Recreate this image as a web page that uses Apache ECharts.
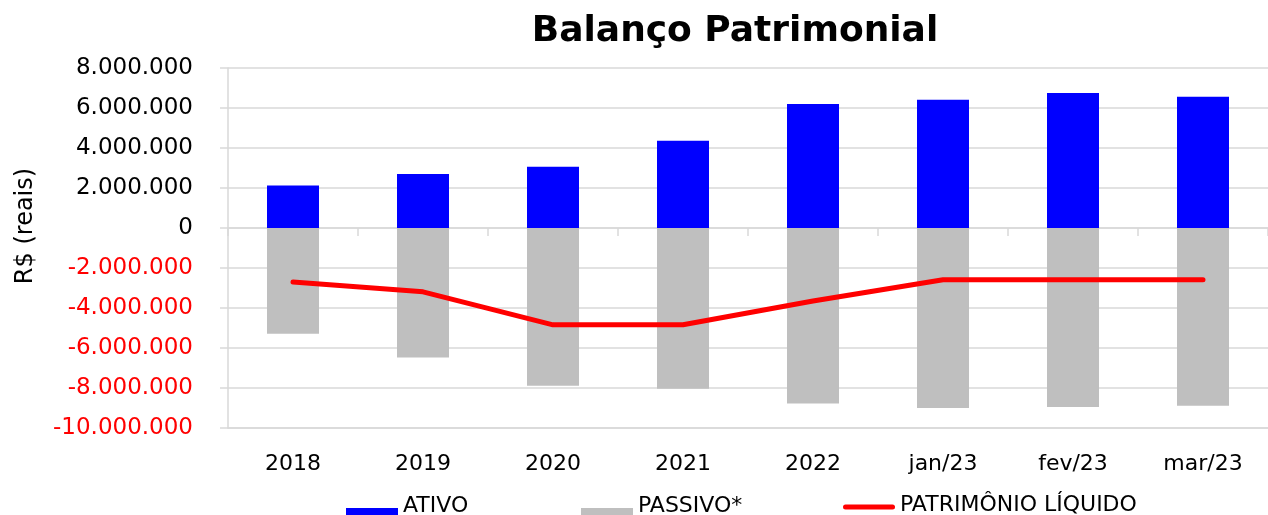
<!DOCTYPE html>
<html>
<head>
<meta charset="utf-8">
<script src="https://cdn.jsdelivr.net/npm/echarts@6/dist/echarts.min.js"></script>
<style>
html,body{margin:0;padding:0;background:#fff;}
#chart{width:1268px;height:515px;}
</style>
</head>
<body>
<div id="chart"></div>
<script>
const categories = ['2018','2019','2020','2021','2022','jan/23','fev/23','mar/23'];
const ativo = [2120000, 2700000, 3060000, 4360000, 6200000, 6410000, 6750000, 6560000];
const passivo = [-5290000, -6470000, -7890000, -8040000, -8770000, -9000000, -8950000, -8890000];
const patrimonio = [-2700000, -3190000, -4840000, -4840000, -3650000, -2590000, -2590000, -2590000];
const yTicks = { min: -10000000, max: 8000000, interval: 2000000 };

const FONT = 'DejaVu Sans';
function fmt(v){
  const s = String(Math.abs(v)).replace(/\B(?=(\d{3})+(?!\d))/g, '.');
  return (v < 0 ? '-' : '') + s;
}
// legend icons: invisible bounds 52x36, text centred at y=18
const RECT_ICON = 'path://M0,0M0,20L52,20L52,34L0,34ZM52,36';
const LINE_ICON = 'path://M0,0M2.5,17.5L49.5,17.5A2.5,2.5 0 0 1 49.5,22.5L2.5,22.5A2.5,2.5 0 0 1 2.5,17.5ZM52,36';

const legendText = { fontFamily: FONT, fontSize: 22, color: '#000' };

const chart = echarts.init(document.getElementById('chart'), null, {renderer:'canvas'});
chart.setOption({
  animation: false,
  backgroundColor: '#ffffff',
  title: {
    text: 'Balanço Patrimonial',
    left: 735, top: 14, textAlign: 'center', padding: 0,
    textStyle: { fontFamily: FONT, fontWeight: 'bold', fontSize: 36, color: '#000' }
  },
  grid: { left: 228, right: 0, top: 68, bottom: 87, containLabel: false },
  legend: [
    { data: [{ name: 'ATIVO', icon: RECT_ICON }], left: 346, top: 488, padding: 0,
      itemWidth: 52, itemHeight: 36, textStyle: legendText },
    { data: [{ name: 'PASSIVO*', icon: RECT_ICON }], left: 581, top: 488, padding: 0,
      itemWidth: 52, itemHeight: 36, textStyle: legendText },
    { data: [{ name: 'PATRIMÔNIO LÍQUIDO', icon: LINE_ICON }], left: 843, top: 487, padding: 0,
      itemWidth: 52, itemHeight: 36, textStyle: legendText }
  ],
  xAxis: [
    { type: 'category', data: categories, position: 'bottom',
      axisLine: { onZero: false, lineStyle: { color: '#d9d9d9', width: 1.5 } },
      axisTick: { show: false },
      axisLabel: { fontFamily: FONT, fontSize: 22, color: '#000', margin: 25 } },
    { type: 'category', data: categories, position: 'top',
      axisLine: { onZero: true, lineStyle: { color: '#d9d9d9', width: 1.5 } },
      axisTick: { show: true, inside: true, length: 8, lineStyle: { color: '#d9d9d9', width: 1.5 } },
      axisLabel: { show: false } }
  ],
  yAxis: {
    type: 'value', min: yTicks.min, max: yTicks.max, interval: yTicks.interval,
    name: 'R$ (reais)', nameLocation: 'middle', nameGap: 190,
    nameTextStyle: { fontFamily: FONT, fontSize: 24, color: '#000', padding: [0,0,0,44] },
    axisLine: { show: true, lineStyle: { color: '#d9d9d9', width: 1.5 } },
    axisTick: { show: true, length: 8, lineStyle: { color: '#d9d9d9', width: 1.5 } },
    splitLine: { show: true, lineStyle: { color: '#d9d9d9', width: 1.5 } },
    axisLabel: {
      fontFamily: FONT, fontSize: 23, margin: 35,
      formatter: fmt,
      color: function (v) { return Number(v) < 0 ? '#FF0000' : '#000000'; }
    }
  },
  series: [
    { name: 'ATIVO', type: 'bar', stack: 'total', data: ativo, barWidth: 52,
      itemStyle: { color: '#0000FF' }, z: 2 },
    { name: 'PASSIVO*', type: 'bar', stack: 'total', data: passivo, barWidth: 52,
      itemStyle: { color: '#BFBFBF' }, z: 2 },
    { name: 'PATRIMÔNIO LÍQUIDO', type: 'line', data: patrimonio, symbol: 'none',
      lineStyle: { color: '#FF0000', width: 5, cap: 'round', join: 'round' },
      itemStyle: { color: '#FF0000' }, z: 5 }
  ]
});
</script>
</body>
</html>
